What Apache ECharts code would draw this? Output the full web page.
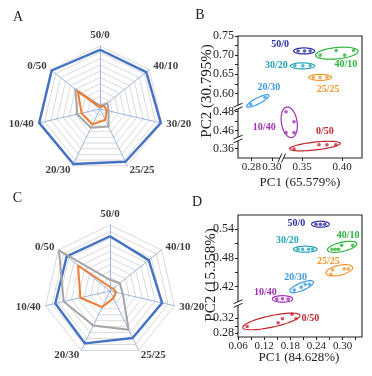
<!DOCTYPE html>
<html>
<head>
<meta charset="utf-8">
<script src="https://cdn.jsdelivr.net/npm/echarts@6/dist/echarts.min.js"></script>
<style>
html, body { margin: 0; padding: 0; background: #fff; }
#main { width: 372px; height: 376px; }
</style>
</head>
<body>
<div id="main"></div>
<script>
"use strict";
const groups = ['50/0', '40/10', '30/20', '25/25', '20/30', '10/40', '0/50'];

// radar values, same order as groups
const radarA_blue = [94, 94, 99, 93, 97, 99, 98];
const radarA_gray = [5, 15, 14, 31, 33, 37, 50];
const radarA_orange = [3, 8, 11, 19, 27, 30, 45];
const radarC_blue = [83, 75, 81, 79, 88, 85, 84];
const radarC_gray = [17, 19, 20, 65, 58, 72, 99];
const radarC_orange = [6, 6, 9, 12, 27, 46, 62];

// PCA scores (PC1, PC2), one list per group
const scoresB = [
    [[0.345, 0.711], [0.353, 0.711], [0.360, 0.711]],
    [[0.3725, 0.700], [0.3925, 0.712], [0.403, 0.700], [0.414, 0.712]],
    [[0.341, 0.672], [0.351, 0.672], [0.360, 0.672]],
    [[0.364, 0.642], [0.3725, 0.642], [0.381, 0.642]],
    [[0.2795, 0.571], [0.2932, 0.590]],
    [[0.330, 0.480], [0.340, 0.4695], [0.330, 0.458], [0.340, 0.458]],
    [[0.340, 0.3597], [0.371, 0.3642], [0.381, 0.3642], [0.392, 0.3642]]
];
const scoresD = [
    [[0.239, 0.550], [0.249, 0.550], [0.259, 0.550]],
    [[0.2756, 0.498], [0.2832, 0.498], [0.2907, 0.498], [0.2976, 0.506], [0.3228, 0.506]],
    [[0.1976, 0.498], [0.2082, 0.498], [0.2219, 0.498], [0.2311, 0.498]],
    [[0.273, 0.446], [0.277, 0.455], [0.304, 0.457], [0.313, 0.457]],
    [[0.189, 0.413], [0.205, 0.419], [0.214, 0.425], [0.224, 0.425]],
    [[0.149, 0.394], [0.162, 0.395], [0.175, 0.394]],
    [[0.081, 0.298], [0.152, 0.308], [0.162, 0.319], [0.184, 0.331], [0.193, 0.319]]
];

// axis segments (broken axes) and tick labels
const bXRanges = [[0.2671, 0.3049], [0.3306, 0.4246]];
const bYRanges = [[0.5685, 0.75], [0.4534, 0.4834], [0.3502, 0.3686]];
const bXTicks = [0.28, 0.30, 0.35, 0.40];
const bYTicks = [0.36, 0.46, 0.48, 0.60, 0.65, 0.70, 0.75];
const bYMinor = [0.47, 0.625, 0.675, 0.725];
const dXRanges = [[0.06, 0.3444]];
const dYRanges = [[0.3881, 0.5692], [0.2702, 0.3555]];
const dXTicks = [0.06, 0.12, 0.18, 0.24, 0.30];
const dXMinor = [0.09, 0.15, 0.21, 0.27, 0.33];
const dYTicks = [0.28, 0.32, 0.42, 0.48, 0.54];
const dYMinor = [0.30, 0.45, 0.51];

// styling / layout
const groupColors = ['#2c2fa3', '#2db33a', '#23a5b8', '#f0962a', '#3a9ae6', '#a22eb5', '#c2272d'];
const bLabelOffset = [[-24, -7], [9, 11], [-26, 0], [8, 12], [11, -13], [-25, 5], [10, -15]];
const dLabelOffset = [[-24, -1], [6, -11.5], [-18, -9], [-11, -9], [-6, -9], [-17, -7], [39, -3]];
const SERIF = '"Liberation Serif", "Times New Roman", serif';
const INK = '#222';

const container = document.getElementById('main');
const chart = echarts.init(container, null, { renderer: 'canvas' });

// clockwise order of radar axes (echarts lays indicators anticlockwise)
const radarOrder = [0, 6, 5, 4, 3, 2, 1];
const reorder = arr => radarOrder.map(i => arr[i]);

function radarComp(center, radius) {
    return {
        center: center,
        radius: radius,
        startAngle: 90,
        splitNumber: 10,
        shape: 'polygon',
        indicator: radarOrder.map(i => ({ name: groups[i], max: 100 })),
        nameGap: 5,
        axisName: { color: '#404040', fontFamily: SERIF, fontWeight: 'bold', fontSize: 11 },
        axisLine: { lineStyle: { color: '#9db5e0', width: 1 } },
        splitLine: { lineStyle: { color: '#dadada', width: 1 } },
        splitArea: { show: false },
        axisTick: { show: false },
        axisLabel: { show: false }
    };
}
function radarSeries(idx, blue, gray, orange) {
    const line = (v, c, w) => ({
        value: reorder(v),
        lineStyle: { color: c, width: w },
        itemStyle: { color: c }
    });
    return {
        type: 'radar',
        radarIndex: idx,
        symbol: 'none',
        silent: true,
        data: [line(blue, '#4472c4', 2.4), line(gray, '#a5a5a5', 2), line(orange, '#ed7d31', 2)]
    };
}

const grids = [];
const xAxes = [];
const yAxes = [];
const series = [
    radarSeries(0, radarA_blue, radarA_gray, radarA_orange),
    radarSeries(1, radarC_blue, radarC_gray, radarC_orange)
];

function ellipseRenderer(points, color, name, offset) {
    return function (params, api) {
        const px = points.map(p => api.coord(p));
        const n = px.length;
        let mx = 0, my = 0;
        px.forEach(p => { mx += p[0]; my += p[1]; });
        mx /= n; my /= n;
        let sxx = 0, syy = 0, sxy = 0;
        px.forEach(p => {
            const dx = p[0] - mx, dy = p[1] - my;
            sxx += dx * dx; syy += dy * dy; sxy += dx * dy;
        });
        const ang = 0.5 * Math.atan2(2 * sxy, sxx - syy);
        const ux = Math.cos(ang), uy = Math.sin(ang);
        let a0 = Infinity, a1 = -Infinity, b0 = Infinity, b1 = -Infinity;
        px.forEach(p => {
            const dx = p[0] - mx, dy = p[1] - my;
            const a = dx * ux + dy * uy, b = -dx * uy + dy * ux;
            a0 = Math.min(a0, a); a1 = Math.max(a1, a);
            b0 = Math.min(b0, b); b1 = Math.max(b1, b);
        });
        const ca = (a0 + a1) / 2, cb = (b0 + b1) / 2;
        const cx = mx + ca * ux - cb * uy;
        const cy = my + ca * uy + cb * ux;
        const ra = (a1 - a0) / 2 + 4.5;
        const rb = (b1 - b0) / 2 + 3;
        const pts = [];
        for (let i = 0; i < 64; i++) {
            const t = i / 64 * Math.PI * 2;
            const ea = ra * Math.cos(t), eb = rb * Math.sin(t);
            pts.push([cx + ea * ux - eb * uy, cy + ea * uy + eb * ux]);
        }
        return {
            type: 'group',
            children: [{
                type: 'polygon',
                shape: { points: pts },
                style: { fill: 'none', stroke: color, lineWidth: 1.2 }
            }, {
                type: 'text',
                x: cx + offset[0],
                y: cy + offset[1],
                style: {
                    text: name, fill: color,
                    font: 'bold 10px ' + SERIF,
                    align: 'center', verticalAlign: 'middle'
                }
            }]
        };
    };
}

const segIndex = (v, ranges) => {
    let best = 0, bestD = Infinity;
    ranges.forEach((r, i) => {
        const d = v < r[0] ? r[0] - v : (v > r[1] ? v - r[1] : 0);
        if (d < bestD) { bestD = d; best = i; }
    });
    return best;
};
const within = (vals, r) => vals.filter(v => v >= r[0] - 1e-9 && v <= r[1] + 1e-9);

function addPanel(p) {
    const cells = [];
    p.yRanges.forEach((yr, yi) => {
        cells[yi] = [];
        p.xRanges.forEach((xr, xi) => {
            const idx = grids.length;
            grids.push({
                left: p.xBoxes[xi][0], width: p.xBoxes[xi][1],
                top: p.yBoxes[yi][0], height: p.yBoxes[yi][1]
            });
            const isBottom = yi === p.yRanges.length - 1;
            xAxes.push({
                gridIndex: idx, type: 'value', min: xr[0], max: xr[1],
                show: isBottom,
                axisLine: { show: false },
                splitLine: { show: false },
                axisTick: {
                    show: true, inside: false, length: 3,
                    customValues: within(p.xTicks.concat(p.xMinor), xr),
                    lineStyle: { color: INK }
                },
                axisLabel: {
                    customValues: within(p.xTicks, xr),
                    formatter: v => v.toFixed(2),
                    fontFamily: SERIF, fontSize: 11, color: INK, margin: 4
                }
            });
            yAxes.push({
                gridIndex: idx, type: 'value', min: yr[0], max: yr[1],
                show: xi === 0,
                axisLine: { show: false },
                splitLine: { show: false },
                axisTick: {
                    show: true, inside: false, length: 3,
                    customValues: within(p.yTicks.concat(p.yMinor), yr),
                    lineStyle: { color: INK }
                },
                axisLabel: {
                    customValues: within(p.yTicks, yr),
                    formatter: v => v.toFixed(2),
                    fontFamily: SERIF, fontSize: 12, color: INK, margin: 4
                }
            });
            cells[yi][xi] = idx;
        });
    });
    // frame box, with hidden axes of its own
    const fIdx = grids.length;
    grids.push({
        left: p.frame[0], top: p.frame[1], width: p.frame[2], height: p.frame[3],
        show: true, borderColor: INK, borderWidth: 1.1, backgroundColor: 'transparent'
    });
    xAxes.push({ gridIndex: fIdx, type: 'value', min: 0, max: 1, show: false });
    yAxes.push({ gridIndex: fIdx, type: 'value', min: 0, max: 1, show: false });

    p.scores.forEach((pts, g) => {
        const mx = pts.reduce((s, q) => s + q[0], 0) / pts.length;
        const my = pts.reduce((s, q) => s + q[1], 0) / pts.length;
        const gi = cells[segIndex(my, p.yRanges)][segIndex(mx, p.xRanges)];
        series.push({
            type: 'custom',
            coordinateSystem: 'cartesian2d',
            xAxisIndex: gi, yAxisIndex: gi,
            clip: false, silent: true, z: 3,
            renderItem: ellipseRenderer(pts, groupColors[g], groups[g], p.labelOffset[g]),
            data: [[mx, my]]
        });
        series.push({
            type: 'scatter',
            name: groups[g],
            xAxisIndex: gi, yAxisIndex: gi,
            clip: false, silent: true, z: 4,
            symbol: 'circle', symbolSize: 3.6,
            itemStyle: { color: groupColors[g] },
            data: pts
        });
    });
}

addPanel({
    xRanges: bXRanges, xBoxes: [[238, 39], [286.5, 75.5]], xTicks: bXTicks, xMinor: [],
    yRanges: bYRanges, yBoxes: [[36, 69.5], [108.5, 28.5], [140.5, 17.5]], yTicks: bYTicks, yMinor: bYMinor,
    frame: [238, 36, 124, 122],
    scores: scoresB, labelOffset: bLabelOffset
});
addPanel({
    xRanges: dXRanges, xBoxes: [[238, 124]], xTicks: dXTicks, xMinor: dXMinor,
    yRanges: dYRanges, yBoxes: [[215, 87], [305, 32]], yTicks: dYTicks, yMinor: dYMinor,
    frame: [238, 215, 124, 122],
    scores: scoresD, labelOffset: dLabelOffset
});

// axis break marks
function breakV(x0, y0) {
    const d = 1.8, w = 4.5, s = 2;
    return [
        { type: 'polygon', z: 100, shape: { points: [[x0 - w, y0 - d + s], [x0 + w, y0 - d - s], [x0 + w, y0 + d - s], [x0 - w, y0 + d + s]] }, style: { fill: '#fff' } },
        { type: 'line', z: 101, shape: { x1: x0 - w, y1: y0 - d + s, x2: x0 + w, y2: y0 - d - s }, style: { stroke: INK, lineWidth: 1 } },
        { type: 'line', z: 101, shape: { x1: x0 - w, y1: y0 + d + s, x2: x0 + w, y2: y0 + d - s }, style: { stroke: INK, lineWidth: 1 } }
    ];
}
function breakH(x0, y0) {
    const d = 1.8, h = 4.5, s = 2;
    return [
        { type: 'polygon', z: 100, shape: { points: [[x0 - d - s, y0 + h], [x0 - d + s, y0 - h], [x0 + d + s, y0 - h], [x0 + d - s, y0 + h]] }, style: { fill: '#fff' } },
        { type: 'line', z: 101, shape: { x1: x0 - d - s, y1: y0 + h, x2: x0 - d + s, y2: y0 - h }, style: { stroke: INK, lineWidth: 1 } },
        { type: 'line', z: 101, shape: { x1: x0 + d - s, y1: y0 + h, x2: x0 + d + s, y2: y0 - h }, style: { stroke: INK, lineWidth: 1 } }
    ];
}
const txt = (text, x, y, size, rot) => ({
    type: 'text', x: x, y: y, rotation: rot || 0, z: 50,
    style: {
        text: text, fill: INK, font: size + 'px ' + SERIF,
        textAlign: 'center', textVerticalAlign: 'middle'
    }
});

const graphics = [
    txt('A', 18, 17.5, 14), txt('B', 200, 15.5, 14),
    txt('C', 17.5, 198, 14), txt('D', 197, 202, 14),
    txt('PC2 (30.795%)', 207.5, 91, 15, Math.PI / 2),
    txt('PC1 (65.579%)', 300, 182.5, 13),
    txt('PC2 (15.358%)', 211, 275, 15, Math.PI / 2),
    txt('PC1 (84.628%)', 299, 358, 13)
].concat(breakV(238, 107), breakV(238, 139), breakH(281.7, 158), breakV(238, 303.5));

chart.setOption({
    animation: false,
    backgroundColor: '#fff',
    radar: [radarComp([100, 109], 63), radarComp([110, 291], 66)],
    grid: grids,
    xAxis: xAxes,
    yAxis: yAxes,
    series: series,
    graphic: { elements: graphics }
});
</script>
</body>
</html>
